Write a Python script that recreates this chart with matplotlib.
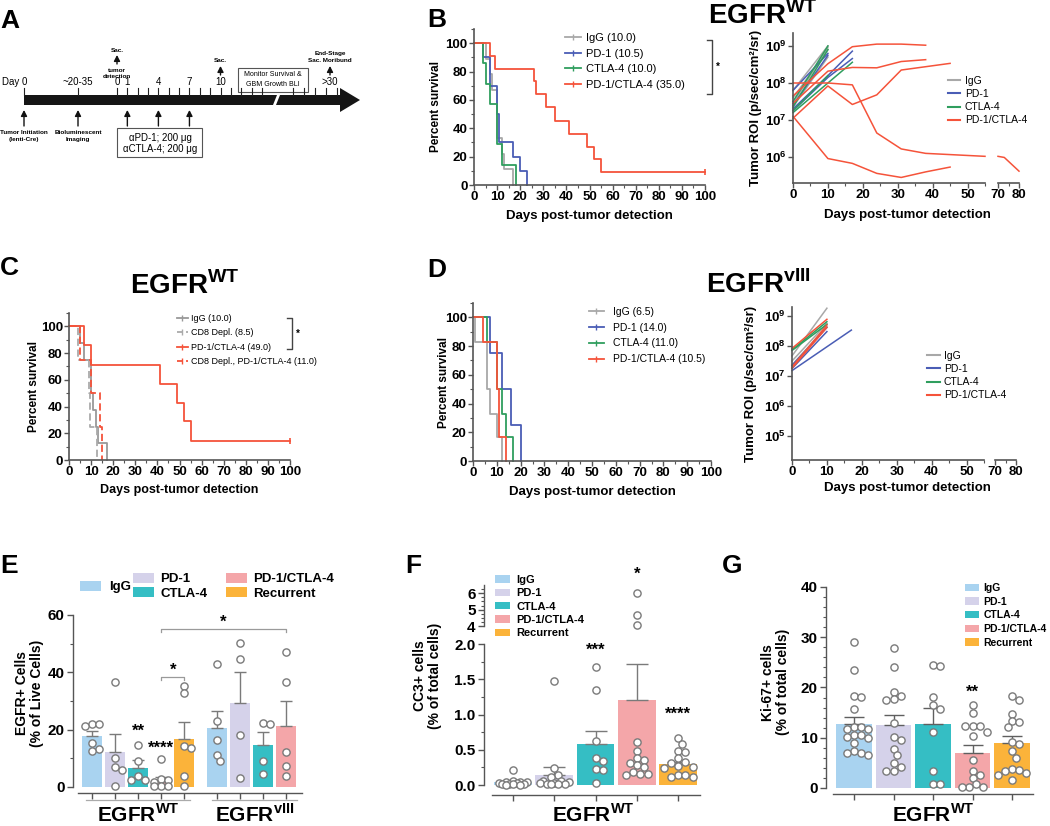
import numpy as np
import matplotlib
matplotlib.use('Agg')
import matplotlib.pyplot as plt
import matplotlib.ticker as mticker
from matplotlib.patches import Patch, Polygon, Rectangle
from matplotlib.lines import Line2D

plt.rcParams['font.family'] = ['Liberation Sans', 'DejaVu Sans']
plt.rcParams['font.weight'] = 'bold'
plt.rcParams['axes.labelweight'] = 'bold'
plt.rcParams['mathtext.fontset'] = 'custom'
plt.rcParams['mathtext.rm'] = 'Liberation Sans'
plt.rcParams['mathtext.bf'] = 'Liberation Sans:bold'

W, H = 1050, 826
AXC = '#555555'
GRAY = '#a8a8a8'
BLUE = '#4a5db5'
GREEN = '#2f9e5e'
RED = '#f5533a'
BAR_COLS = ['#a9d3f0', '#d5d2ea', '#35bec4', '#f4a6a9', '#fbb33a']
PT_EDGE = '#7a7a7a'
ERR_C = '#7a7a7a'

# ---------------- data ----------------
# A: timeline
a_pre_labels = ['Day 0', '~20-35']
a_post_days = [0, 1, 4, 7, 10]

# B: survival, EGFR WT
b_labels = ['IgG (10.0)', 'PD-1 (10.5)', 'CTLA-4 (10.0)', 'PD-1/CTLA-4 (35.0)']
b_igg_t = [0, 5, 7, 8, 10, 12, 13, 17]
b_igg_s = [100, 89, 78, 67, 33, 22, 11, 0]
b_pd1_t = [0, 4, 7, 10, 11, 17, 20, 23]
b_pd1_s = [100, 90, 70, 50, 30, 20, 10, 0]
b_ctla_t = [0, 4, 5, 7, 10, 12, 18]
b_ctla_s = [100, 86, 71, 57, 29, 14, 0]
b_combo_t = [0, 7, 9, 26, 27, 31, 35, 41, 49, 52, 55, 100]
b_combo_s = [100, 91, 82, 73, 64, 55, 45, 36, 27, 18, 9, 9]

# B: tumour ROI (log10 p/sec/cm2/sr)
roi_labels = ['IgG', 'PD-1', 'CTLA-4', 'PD-1/CTLA-4']
bw_igg_days = [[0, 10], [0, 10], [0, 10], [0, 10]]
bw_igg_vals = [[7.8, 9.0], [7.45, 8.95], [7.6, 8.9], [7.35, 8.7]]
bw_pd1_days = [[0, 10], [0, 10, 17], [0, 10, 17], [0, 10]]
bw_pd1_vals = [[7.8, 8.8], [7.3, 8.2, 8.86], [7.25, 8.15, 8.66], [7.4, 8.75]]
bw_ctla_days = [[0, 10, 17], [0, 10], [0, 10], [0, 10]]
bw_ctla_vals = [[7.2, 8.0, 8.56], [7.35, 8.9], [7.5, 9.0], [7.25, 8.2]]
bw_combo_days = [[0, 10, 17, 24, 31, 38], [0, 10, 17, 24, 31, 38],
                 [0, 10, 17, 24, 31, 38, 55], [0, 10, 17, 24, 31, 45],
                 [0, 10, 17, 24, 31, 38, 45]]
bw_combo_vals = [[7.65, 8.52, 8.98, 9.05, 9.05, 9.02],
                 [7.45, 8.32, 8.42, 8.41, 8.58, 8.63],
                 [8.0, 8.0, 7.95, 6.65, 6.22, 6.1, 6.02],
                 [7.05, 7.92, 7.42, 7.68, 8.35, 8.53],
                 [7.1, 5.96, 5.83, 5.56, 5.45, 5.6, 5.73]]
bw_late_days = [70, 73, 80]
bw_late_vals = [6.02, 5.99, 5.62]

# C: survival with CD8 depletion
c_labels = ['IgG (10.0)', 'CD8 Depl. (8.5)', 'PD-1/CTLA-4 (49.0)',
            'CD8 Depl., PD-1/CTLA-4 (11.0)']
c_igg_t = [0, 5, 7, 10, 11, 12, 13, 17]
c_igg_s = [100, 87.5, 75, 50, 37.5, 25, 12.5, 0]
c_cd8_t = [0, 4, 9, 9.5, 12.5]
c_cd8_s = [100, 75, 50, 25, 0]
c_combo_t = [0, 7, 10, 41, 49, 52, 55, 100]
c_combo_s = [100, 86, 71, 57, 43, 29, 14, 14]
c_cd8combo_t = [0, 5, 10, 14, 15]
c_cd8combo_s = [100, 75, 50, 25, 0]

# D: survival, EGFR vIII
d_labels = ['IgG (6.5)', 'PD-1 (14.0)', 'CTLA-4 (11.0)', 'PD-1/CTLA-4 (10.5)']
d_igg_t = [0, 1, 6, 7, 10, 12]
d_igg_s = [100, 83, 50, 33, 17, 0]
d_pd1_t = [0, 7, 12, 16, 20]
d_pd1_s = [100, 75, 50, 25, 0]
d_ctla_t = [0, 6, 10, 12, 14, 17]
d_ctla_s = [100, 83, 50, 33, 17, 0]
d_combo_t = [0, 4, 10, 11, 14]
d_combo_s = [100, 83, 50, 17, 0]

# D: tumour ROI vIII
dv_igg_days = [[0, 10], [0, 10], [0, 10]]
dv_igg_vals = [[7.67, 9.26], [7.37, 8.64], [7.5, 8.75]]
dv_pd1_days = [[0, 17], [0, 10], [0, 10]]
dv_pd1_vals = [[7.18, 8.53], [7.25, 8.48], [7.35, 8.62]]
dv_ctla_days = [[0, 10], [0, 10]]
dv_ctla_vals = [[7.87, 8.81], [7.85, 8.72]]
dv_combo_days = [[0, 10], [0, 10], [0, 10]]
dv_combo_vals = [[7.92, 8.89], [7.26, 8.62], [7.3, 8.7]]

# E: EGFR+ cells
bar_labels = ['IgG', 'PD-1', 'CTLA-4', 'PD-1/CTLA-4', 'Recurrent']
e_wt_mean = [17.8, 12.2, 6.6, 2.0, 16.8]
e_wt_sem = [1.7, 6.3, 2.7, 1.5, 5.9]
e_v3_mean = [20.5, 29.2, 14.5, 21.4]
e_v3_sem = [6.0, 11.0, 4.6, 8.6]
e_wt_pts = [[22.0, 22.1, 21.3, 15.2, 13.4, 12.6],
            [36.6, 10.0, 7.1, 5.8, 0.4],
            [14.6, 9.2, 4.0, 2.4, 2.6],
            [9.9, 1.8, 2.3, 2.7, 0.5, 0.3, 0.5],
            [35.3, 32.8, 14.4, 13.5, 4.0, 0.2]]
e_v3_pts = [[42.9, 23.0, 16.3, 11.1, 9.0],
            [50.1, 44.8, 18.3, 3.2],
            [22.0, 22.2, 9.0, 4.4],
            [47.0, 36.7, 12.1, 7.2, 3.8]]

# F: CC3+ cells
f_mean = [0.05, 0.15, 0.58, 1.21, 0.30]
f_sem = [0.01, 0.10, 0.18, 0.50, 0.03]
f_pts = [[0.22, 0.06, 0.05, 0.04, 0.04, 0.03, 0.03, 0.02, 0.02, 0.01, 0.01, 0.0, 0.0],
         [1.47, 0.24, 0.15, 0.12, 0.06, 0.06, 0.05, 0.03, 0.03, 0.02, 0.02, 0.01, 0.01],
         [1.68, 1.35, 0.62, 0.39, 0.34, 0.23, 0.22, 0.03],
         [6.0, 4.65, 4.05, 0.61, 0.49, 0.38, 0.36, 0.31, 0.28, 0.26, 0.19, 0.16, 0.16, 0.15],
         [0.67, 0.58, 0.48, 0.47, 0.38, 0.33, 0.32, 0.27, 0.26, 0.24, 0.15, 0.14, 0.12, 0.11]]

# G: Ki-67+ cells
g_mean = [12.8, 12.6, 12.8, 7.0, 9.0]
g_sem = [1.4, 1.9, 3.1, 1.5, 1.4]
g_pts = [[29.0, 23.4, 18.4, 18.1, 15.7, 12.2, 12.2, 11.7, 11.7, 10.2, 10.5, 10.0, 10.5,
          9.0, 7.4, 7.0, 7.0, 6.5],
         [27.9, 24.0, 19.2, 17.6, 17.7, 18.4, 12.9, 10.1, 9.6, 7.8, 6.6, 4.9, 4.1, 3.3, 3.4],
         [24.3, 24.5, 18.1, 16.5, 15.7, 11.2, 3.4, 0.7, 0.8],
         [16.5, 15.0, 12.3, 12.4, 12.3, 10.4, 11.2, 5.5, 3.4, 2.6, 2.0, 0.8, 0.1, 0.1, 0.2],
         [18.4, 17.5, 14.8, 13.1, 13.3, 12.1, 9.2, 8.8, 7.3, 6.0, 3.7, 3.6, 3.3, 3.0, 2.6, 1.5]]

# ---------------- figure ----------------
fig = plt.figure(figsize=(W / 100, H / 100), dpi=100)


def px_axes(x0, y0, x1, y1):
    return fig.add_axes([x0 / W, 1 - y1 / H, (x1 - x0) / W, (y1 - y0) / H])


def clean(ax, lw=1.2):
    for s in ['top', 'right']:
        ax.spines[s].set_visible(False)
    for s in ['left', 'bottom']:
        ax.spines[s].set_color(AXC)
        ax.spines[s].set_linewidth(lw)


def style_surv(ax, fs=9.5):
    clean(ax)
    ax.set_xlim(0, 100)
    ax.set_ylim(0, 110)
    ax.set_xticks(np.arange(0, 101, 10))
    ax.set_xticks(np.arange(5, 100, 5), minor=True)
    ax.set_yticks(np.arange(0, 101, 20))
    ax.set_yticks(np.arange(10, 111, 20), minor=True)
    ax.tick_params(which='major', length=3.5, width=1, color=AXC, labelsize=fs, pad=1)
    ax.tick_params(which='minor', length=2, width=0.8, color=AXC)


def surv_line(ax, t, s, color, ls='-', censor=False):
    ax.step(t, s, where='post', color=color, lw=1.3, ls=ls, clip_on=False)
    if censor:
        ax.plot(t[-1], s[-1], marker='|', ms=5, mew=1.2, color=color, clip_on=False)


def surv_legend(ax, handles, labels, x, y, fs, hl, tp, ls):
    ax.legend(handles, labels, loc='upper left', bbox_to_anchor=(x / W, 1 - y / H),
              bbox_transform=fig.transFigure, frameon=False, borderpad=0,
              borderaxespad=0, handlelength=hl, handletextpad=tp, labelspacing=ls,
              prop={'size': fs, 'weight': 'normal'})


def set_ylabel_px(ax, text, xr, fs, y=0.5):
    ax.set_ylabel(text, fontsize=fs, linespacing=1.1)
    bb = ax.get_position()
    ax.yaxis.set_label_coords((xr / W - bb.x0) / bb.width, y)


def style_roi(ax1, ax2, ylo, yhi, xmax=55):
    for ax in (ax1, ax2):
        clean(ax)
        ax.set_yscale('log')
        ax.set_ylim(10 ** ylo, 10 ** yhi)
        ax.yaxis.set_minor_locator(mticker.NullLocator())
        ax.patch.set_visible(False)
    ax2.spines['left'].set_visible(False)
    ax2.tick_params(axis='y', which='both', left=False, labelleft=False)
    ax1.yaxis.set_major_locator(mticker.LogLocator(base=10, numticks=12))
    ax1.yaxis.set_major_formatter(mticker.FuncFormatter(
        lambda v, p: r'$\mathbf{10^{%d}}$' % round(np.log10(v))))
    ax1.set_xlim(0, xmax)
    ax1.set_xticks(np.arange(0, 51, 10))
    ax1.set_xticks(np.arange(5, xmax + 1, 5), minor=True)
    ax2.set_xlim(70, 80)
    ax2.set_xticks([70, 80])
    ax2.set_xticks([75], minor=True)
    for ax in (ax1, ax2):
        ax.tick_params(which='major', length=3.5, width=1, color=AXC, labelsize=9.5, pad=1)
        ax.tick_params(which='minor', length=2, width=0.8, color=AXC)


def roi_lines(ax, days_list, vals_list, color):
    for dd, vv in zip(days_list, vals_list):
        ax.plot(dd, 10 ** np.array(vv), color=color, lw=1.1, clip_on=False)


def swarm(ax, xc, vals, half, diam, ms):
    # spread points sideways so circles do not overlap (pixel space)
    placed = []
    for v in sorted(vals, reverse=True):
        xp, yp = ax.transData.transform((xc, v))
        cands = [0.0]
        for k in range(1, 40):
            for sgn in (1, -1):
                c = sgn * k * diam * 0.5
                if abs(c) <= half:
                    cands.append(c)
        chosen, best_d, best_c = None, -1, 0.0
        for c in cands:
            d = min([np.hypot(xp + c - a, yp - b) for a, b in placed], default=1e9)
            if d >= diam * 0.95:
                chosen = c
                break
            if d > best_d:
                best_d, best_c = d, c
        if chosen is None:
            chosen = best_c
        placed.append((xp + chosen, yp))
    xy = ax.transData.inverted().transform(placed)
    ax.plot(xy[:, 0], xy[:, 1], 'o', mfc='white', mec=PT_EDGE, ms=ms, mew=1.0,
            clip_on=False, zorder=5)


def style_bar(ax, xlo, xhi, ylo, yhi, spine_lo):
    clean(ax, lw=1.0)
    ax.set_xlim(xlo, xhi)
    ax.set_ylim(ylo, yhi)
    ax.spines['left'].set_bounds(max(0, ylo), yhi)
    ax.spines['bottom'].set_bounds(spine_lo, xhi)
    ax.tick_params(axis='x', labelbottom=False, length=4, width=1, color=AXC)
    ax.tick_params(axis='y', which='major', length=4, width=1, color=AXC, labelsize=11, pad=2)
    ax.tick_params(axis='y', which='minor', length=2, width=0.8, color=AXC)


def bar_legend(ax, handles, labels, x, y, fs, hl, hh, tp, ls, ncol=1, cs=1.0):
    return ax.legend(handles, labels, loc='upper left', bbox_to_anchor=(x / W, 1 - y / H),
                     bbox_transform=fig.transFigure, frameon=False, borderpad=0,
                     borderaxespad=0, handlelength=hl, handleheight=hh,
                     handletextpad=tp, labelspacing=ls, ncol=ncol, columnspacing=cs,
                     prop={'size': fs, 'weight': 'bold'})


def lh(color, ls='-'):
    return Line2D([0], [0], color=color, lw=1.3, ls=ls, marker='|', ms=4, mew=1)


def rh(color):
    return Line2D([0], [0], color=color, lw=1.5)


# ---- B survival ----
axB = px_axes(474, 29, 705, 185)
style_surv(axB)
surv_line(axB, b_igg_t, b_igg_s, GRAY)
surv_line(axB, b_pd1_t, b_pd1_s, BLUE)
surv_line(axB, b_ctla_t, b_ctla_s, GREEN)
surv_line(axB, b_combo_t, b_combo_s, RED, censor=True)
set_ylabel_px(axB, 'Percent survival', 442, 8.5)
axB.set_xlabel('Days post-tumor detection', fontsize=9.5, labelpad=5)
surv_legend(axB, [lh(GRAY), lh(BLUE), lh(GREEN), lh(RED)], b_labels,
            565, 33, 8, 1.4, 0.45, 0.5)

# ---- B ROI ----
axBr = px_axes(793, 33, 985, 183)
axBr2 = px_axes(998, 33, 1019, 183)
style_roi(axBr, axBr2, 5.3, 9.35)
roi_lines(axBr, bw_igg_days, bw_igg_vals, GRAY)
roi_lines(axBr, bw_pd1_days, bw_pd1_vals, BLUE)
roi_lines(axBr, bw_ctla_days, bw_ctla_vals, GREEN)
roi_lines(axBr, bw_combo_days, bw_combo_vals, RED)
axBr2.plot(bw_late_days, 10 ** np.array(bw_late_vals), color=RED, lw=1.1, clip_on=False)
set_ylabel_px(axBr, 'Tumor ROI (p/sec/cm²/sr)', 762, 9.5)
surv_legend(axBr, [rh(GRAY), rh(BLUE), rh(GREEN), rh(RED)], roi_labels,
            948, 76, 7.5, 1.2, 0.4, 0.3)

# ---- C survival ----
axC = px_axes(69, 313, 290, 460)
style_surv(axC)
surv_line(axC, c_igg_t, c_igg_s, '#999999')
surv_line(axC, c_cd8_t, c_cd8_s, '#aaaaaa', ls=(0, (4, 2)))
surv_line(axC, c_combo_t, c_combo_s, RED, censor=True)
surv_line(axC, c_cd8combo_t, c_cd8combo_s, RED, ls=(0, (4, 2)))
set_ylabel_px(axC, 'Percent survival', 40, 8.5)
axC.set_xlabel('Days post-tumor detection', fontsize=9, labelpad=4)
surv_legend(axC, [lh('#999999'), lh('#aaaaaa', (0, (3, 2))), lh(RED), lh(RED, (0, (3, 2)))],
            c_labels, 177, 314, 6.5, 1.2, 0.4, 0.6)

# ---- D survival ----
axD = px_axes(473, 303, 711, 461)
style_surv(axD)
surv_line(axD, d_igg_t, d_igg_s, GRAY)
surv_line(axD, d_pd1_t, d_pd1_s, BLUE)
surv_line(axD, d_ctla_t, d_ctla_s, GREEN)
surv_line(axD, d_combo_t, d_combo_s, RED)
set_ylabel_px(axD, 'Percent survival', 450, 8.5)
axD.set_xlabel('Days post-tumor detection', fontsize=9.5, labelpad=5)
surv_legend(axD, [lh(GRAY), lh(BLUE), lh(GREEN), lh(RED)], d_labels,
            589, 307, 7.5, 1.4, 0.9, 0.55)

# ---- D ROI ----
axDr = px_axes(792, 307, 984, 460)
axDr2 = px_axes(995, 307, 1016, 460)
style_roi(axDr, axDr2, 4.2, 9.3)
roi_lines(axDr, dv_igg_days, dv_igg_vals, GRAY)
roi_lines(axDr, dv_pd1_days, dv_pd1_vals, BLUE)
roi_lines(axDr, dv_ctla_days, dv_ctla_vals, GREEN)
roi_lines(axDr, dv_combo_days, dv_combo_vals, RED)
set_ylabel_px(axDr, 'Tumor ROI (p/sec/cm²/sr)', 757, 9.5)
surv_legend(axDr, [rh(GRAY), rh(BLUE), rh(GREEN), rh(RED)], roi_labels,
            927, 351, 7.5, 1.2, 0.4, 0.3)

# ---- E bars ----
axE = px_axes(73, 615, 302, 793)
e_pos = np.r_[np.arange(5), np.arange(4) + 5.4]
e_mean = e_wt_mean + e_v3_mean
e_sem = e_wt_sem + e_v3_sem
e_pts = e_wt_pts + e_v3_pts
e_cols = BAR_COLS + BAR_COLS[:4]
style_bar(axE, -0.82, 9.1, -2.1, 60, -0.6)
axE.set_yticks([0, 20, 40, 60])
axE.set_yticks(np.arange(10, 60, 20), minor=True)
axE.set_xticks(e_pos)
axE.bar(e_pos, e_mean, width=0.86, color=e_cols, zorder=2)
axE.errorbar(e_pos, e_mean, yerr=[np.zeros(len(e_sem)), e_sem], fmt='none',
             ecolor=ERR_C, elinewidth=1, capsize=4.3, capthick=1, zorder=3)
for x, pts in zip(e_pos, e_pts):
    swarm(axE, x, pts, 10, 7.2, 5.2)
set_ylabel_px(axE, 'EGFR+ Cells\n(% of Live Cells)', 44, 10, y=0.56)
axE.text(2, 16.8, '**', ha='center', va='bottom', fontsize=12)
axE.text(3, 11.0, '****', ha='center', va='bottom', fontsize=12)
axE.plot([3, 3, 4, 4], [37.4, 38.5, 38.5, 37.4], color='#9a9a9a', lw=0.9)
axE.text(3.5, 38.2, '*', ha='center', va='bottom', fontsize=12)
axE.plot([3, 3, 8.4, 8.4], [53.9, 55, 55, 53.9], color='#9a9a9a', lw=0.9)
axE.text(5.7, 54.7, '*', ha='center', va='bottom', fontsize=12)
e_h = [Patch(facecolor=c, edgecolor='none') for c in BAR_COLS]
legE1 = bar_legend(axE, e_h[:1], bar_labels[:1], 80, 581, 9.5, 1.6, 0.75, 0.6, 0.2)
axE.add_artist(legE1)
bar_legend(axE, e_h[1:], bar_labels[1:], 133, 573, 9.5, 1.6, 0.75, 0.45, 0.15, ncol=2, cs=1.4)

# ---- F bars (broken axis) ----
axF = px_axes(484, 644, 700, 795)
axFu = px_axes(484, 585, 700, 628)
f_pos = np.arange(5)
style_bar(axF, -0.7, 4.53, -0.14, 2.0, -0.51)
clean(axFu, lw=1.0)
axFu.spines['bottom'].set_visible(False)
axFu.set_xlim(-0.7, 4.53)
axFu.set_ylim(3.88, 6.5)
axFu.spines['left'].set_bounds(4, 6.5)
axFu.set_xticks([])
axFu.patch.set_visible(False)
axFu.set_yticks([4, 5, 6])
axFu.set_yticks(np.arange(4.25, 6.5, 0.25), minor=True)
axFu.tick_params(axis='y', which='major', length=4, width=1, color=AXC, labelsize=11, pad=2)
axFu.tick_params(axis='y', which='minor', length=2, width=0.8, color=AXC)
axF.set_yticks([0, 0.5, 1.0, 1.5, 2.0])
axF.yaxis.set_major_formatter(mticker.FormatStrFormatter('%.1f'))
axF.set_yticks(np.arange(0.25, 2.0, 0.5), minor=True)
axF.set_xticks(f_pos)
axF.bar(f_pos, f_mean, width=0.91, color=BAR_COLS, zorder=2)
axF.errorbar(f_pos, f_mean, yerr=[np.zeros(5), f_sem], fmt='none', ecolor=ERR_C,
             elinewidth=1, capsize=8, capthick=1, zorder=3)
for x, pts in zip(f_pos, f_pts):
    lo = [p for p in pts if p <= 2]
    hi = [p for p in pts if p > 2]
    swarm(axF, x, lo, 17, 7.2, 5.2)
    if hi:
        swarm(axFu, x, hi, 17, 7.2, 5.2)
set_ylabel_px(axF, 'CC3+ cells\n(% of total cells)', 442, 10, y=0.79)
axF.text(2, 1.8, '***', ha='center', va='bottom', fontsize=12)
axF.text(4, 0.9, '****', ha='center', va='bottom', fontsize=12)
axFu.text(3, 6.7, '*', ha='center', va='bottom', fontsize=12)
f_h = [Patch(facecolor=c, edgecolor='none') for c in BAR_COLS]
bar_legend(axF, f_h, bar_labels, 495, 575, 8, 1.35, 0.65, 0.6, 0.3)

# ---- G bars ----
axG = px_axes(826, 587, 1033, 794)
g_pos = np.arange(5)
style_bar(axG, -0.71, 4.53, -1.2, 40, -0.53)
axG.set_yticks([0, 10, 20, 30, 40])
axG.set_yticks(np.arange(2, 40, 2), minor=True)
axG.set_xticks(g_pos)
axG.bar(g_pos, g_mean, width=0.9, color=BAR_COLS, zorder=2)
axG.errorbar(g_pos, g_mean, yerr=[np.zeros(5), g_sem], fmt='none', ecolor='#5f5f5f',
             elinewidth=1, capsize=7, capthick=1, zorder=3)
for x, pts in zip(g_pos, g_pts):
    swarm(axG, x, pts, 16, 7.2, 5.2)
set_ylabel_px(axG, 'Ki-67+ cells\n(% of total cells)', 790, 10, y=0.54)
axG.text(3, 17.6, '**', ha='center', va='bottom', fontsize=12)
bar_legend(axG, f_h, bar_labels, 965, 583, 7.5, 1.3, 0.7, 0.5, 0.35)

# ---------------- overlay (pixel coordinates) ----------------
ov = fig.add_axes([0, 0, 1, 1], zorder=10)
ov.set_xlim(0, W)
ov.set_ylim(H, 0)
ov.axis('off')
ov.patch.set_visible(False)

# panel letters
for letter, x, y in [('A', 0, 28), ('B', 427, 27), ('C', 0, 275), ('D', 427, 277),
                     ('E', 0, 573), ('F', 405, 573), ('G', 722, 573)]:
    ov.text(x, y, letter, fontsize=19, ha='left', va='baseline')

# titles
ov.text(763, 24, r'EGFR$^{\mathbf{WT}}$', fontsize=20, ha='center', va='baseline')
ov.text(185, 294, r'EGFR$^{\mathbf{WT}}$', fontsize=20, ha='center', va='baseline')
ov.text(759, 293, r'EGFR$^{\mathbf{vIII}}$', fontsize=20, ha='center', va='baseline')
ov.text(907, 215, 'Days post-tumor detection', fontsize=9.5, ha='center', va='center')
ov.text(907, 488, 'Days post-tumor detection', fontsize=9.5, ha='center', va='center')

# significance brackets on survival legends
for xb, y0, y1 in [(712, 40, 94), (292, 318, 349)]:
    ov.plot([xb - 5, xb, xb, xb - 5], [y0, y0, y1, y1], color='#444444', lw=1.0)
    ov.text(xb + 6, (y0 + y1) / 2, '*', fontsize=7, ha='center', va='center')

# E/F/G group labels
ov.plot([86, 190], [800, 800], color='#aaaaaa', lw=0.9)
ov.plot([212, 297], [800, 800], color='#aaaaaa', lw=0.9)
for x, txt in [(138, r'EGFR$^{\mathbf{WT}}$'), (255, r'EGFR$^{\mathbf{vIII}}$'),
               (593, r'EGFR$^{\mathbf{WT}}$'), (933, r'EGFR$^{\mathbf{WT}}$')]:
    ov.text(x, 822, txt, fontsize=15, ha='center', va='baseline')

# ---- A: timeline schematic ----
det_x, day_px = 117, 10.35
ov.add_patch(Polygon([(24, 95), (277, 95), (273, 105), (24, 105)], closed=True,
                     facecolor='#151515', edgecolor='none'))
ov.add_patch(Polygon([(280, 95), (342, 95), (342, 105), (276, 105)], closed=True,
                     facecolor='#151515', edgecolor='none'))
ov.add_patch(Polygon([(340, 88), (360, 100), (340, 112)], closed=True,
                     facecolor='#151515', edgecolor='none'))
tick_x = [24, 78] + [det_x + day_px * k for k in range(15)] + [293, 304, 315, 326, 337]
for x in tick_x:
    ov.plot([x, x], [88, 95], color='#222222', lw=0.8)
ov.text(27, 87, a_pre_labels[0], fontsize=7, fontweight='normal', ha='right', va='bottom')
ov.text(78, 87, a_pre_labels[1], fontsize=7, fontweight='normal', ha='center', va='bottom')
for d in a_post_days:
    ov.text(det_x + day_px * d, 87, str(d), fontsize=7, fontweight='normal',
            ha='center', va='bottom')
ov.text(330, 87, '>30', fontsize=7, fontweight='normal', ha='center', va='bottom')

arw = dict(arrowstyle='-|>,head_width=0.18,head_length=0.35', color='#111111', lw=1.0,
           shrinkA=0, shrinkB=0)
for x in [24, 78, det_x + day_px * 1, det_x + day_px * 4, det_x + day_px * 7]:
    ov.annotate('', xy=(x, 110), xytext=(x, 126), arrowprops=arw)
ov.annotate('', xy=(det_x, 55), xytext=(det_x, 64), arrowprops=arw)
ov.annotate('', xy=(det_x + day_px * 10, 66), xytext=(det_x + day_px * 10, 75), arrowprops=arw)
ov.annotate('', xy=(330, 66), xytext=(330, 75), arrowprops=arw)

sm = dict(fontsize=4.6, ha='center', va='center')
ov.text(det_x, 50, 'Sac.', **sm)
ov.text(det_x, 70, 'tumor', **sm)
ov.text(det_x, 76.5, 'detection', **sm)
ov.text(det_x + day_px * 10, 61, 'Sac.', **sm)
ov.text(330, 53, 'End-Stage', **sm)
ov.text(330, 61, 'Sac. Moribund', **sm)
ov.text(24, 133, 'Tumor Initiation', **sm)
ov.text(24, 140, '(lenti-Cre)', **sm)
ov.text(78, 133, 'Bioluminescent', **sm)
ov.text(78, 140, 'Imaging', **sm)

ov.add_patch(Rectangle((238, 68), 70, 24, facecolor='white', edgecolor='#555555', lw=0.8))
ov.text(273, 75, 'Monitor Survival &', fontsize=5, fontweight='normal', ha='center', va='center')
ov.text(273, 85, 'GBM Growth BLI', fontsize=5, fontweight='normal', ha='center', va='center')
ov.add_patch(Rectangle((117, 128), 85, 29, facecolor='white', edgecolor='#555555', lw=0.8))
ov.text(160, 138, 'αPD-1; 200 μg', fontsize=7, fontweight='normal', ha='center', va='center')
ov.text(160, 149, 'αCTLA-4; 200 μg', fontsize=7, fontweight='normal', ha='center', va='center')

fig.savefig('out.png', dpi=100)
